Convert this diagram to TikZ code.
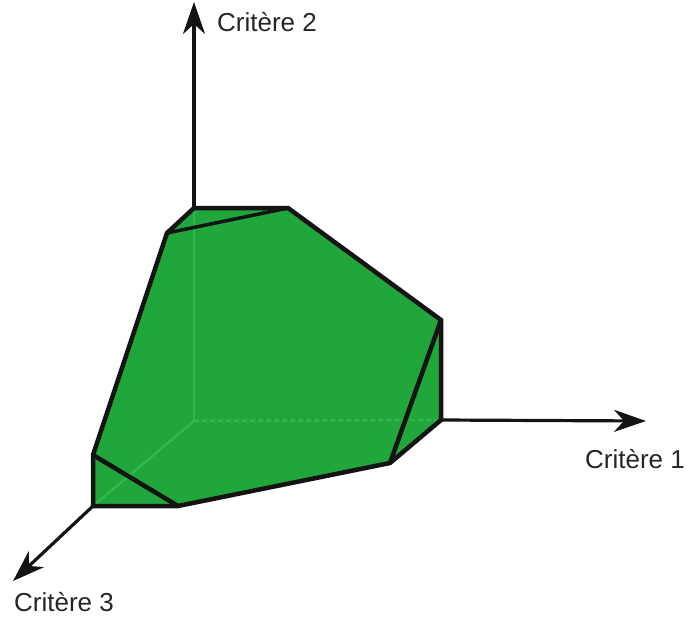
\documentclass[tikz,border=0pt]{standalone}
\usepackage{fontspec}
\setmainfont{Liberation Sans}
\usetikzlibrary{arrows.meta}
\definecolor{polyfill}{RGB}{33,166,59}
\definecolor{hidden}{RGB}{45,185,75}
\begin{document}
\begin{tikzpicture}[x=1pt,y=-1pt,
  edge/.style={line width=4.5pt, line join=miter, black!92},
  axis/.style={line width=3.2pt, black!92, -{Stealth[length=32pt,width=22pt,inset=10pt]}},
  hid/.style={line width=2.5pt, hidden},
  lbl/.style={font=\fontsize{26}{30}\selectfont, text=black!85, inner sep=0pt}]
\useasboundingbox (0,0) rectangle (687,621);
\coordinate (O) at (194,421);
\coordinate (A) at (194,208);
\coordinate (B) at (288,208);
\coordinate (C) at (441,320);
\coordinate (D) at (441,420);
\coordinate (E) at (390,463);
\coordinate (F) at (178,506);
\coordinate (G) at (93,506);
\coordinate (H) at (93,455);
\coordinate (I) at (167,233);
\coordinate (X) at (646,421);
\coordinate (Y) at (194,2);
\coordinate (Z) at (13,581);
% fill
\fill[polyfill] (A) -- (B) -- (C) -- (D) -- (E) -- (F) -- (G) -- (H) -- (I) -- cycle;
% hidden axis parts
\draw[hid] (O) -- (A);
\draw[hid] (O) -- (G);
\draw[hid, dash pattern=on 5pt off 3pt] (O) -- (D);
% axes
\draw[axis] (A) -- (Y);
\draw[axis] (D) -- (X);
\draw[axis] (G) -- (Z);
% edges
\draw[edge] (A) -- (B) -- (C) -- (D) -- (E) -- (F) -- (G) -- (H) -- (I) -- cycle;
\draw[edge, line width=3.5pt] (I) -- (B);
\draw[edge] (C) -- (E);
\draw[edge] (H) -- (F);
% labels
\node[lbl, anchor=west] (l2) at (217,22) {Critère 2};
\node[lbl, anchor=east] (l1) at (685,459) {Critère 1};
\node[lbl, anchor=west] (l3) at (14,602) {Critère 3};
\end{tikzpicture}
\end{document}
